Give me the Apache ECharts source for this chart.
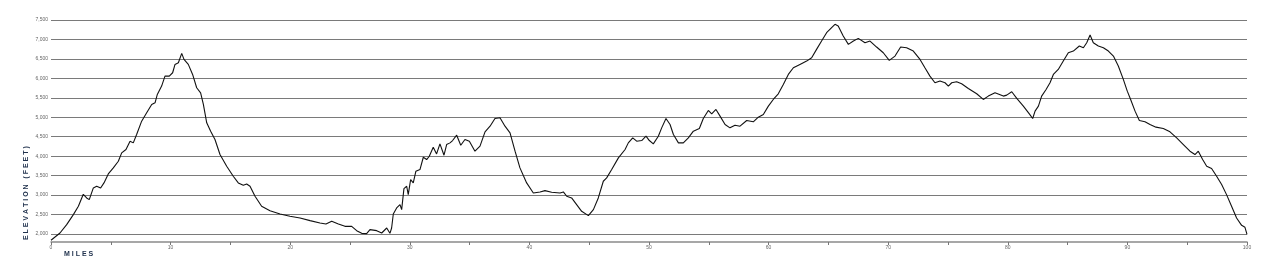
<!DOCTYPE html>
<html>
<head>
<meta charset="utf-8">
<script src="https://cdn.jsdelivr.net/npm/echarts@6/dist/echarts.min.js"></script>
<style>
html,body{margin:0;padding:0;background:#fff;}
#chart{width:1271px;height:264px;}
</style>
</head>
<body>
<div id="chart"></div>
<script>
// Elevation profile: miles along route
const miles = [
  0, 0.75, 1.31, 1.87, 2.29, 2.7, 2.98, 3.2, 3.54, 3.82, 4.15, 4.43, 4.79, 5.21, 5.63, 5.91,
  6.27, 6.61, 6.88, 7.16, 7.58, 8.0, 8.42, 8.7, 8.89, 9.25, 9.53, 9.89, 10.17, 10.37, 10.65,
  10.93, 11.12, 11.48, 11.84, 12.18, 12.51, 12.74, 13.02, 13.35, 13.71, 14.13, 14.69, 15.24,
  15.66, 16.08, 16.36, 16.64, 17.06, 17.61, 18.31, 19.15, 19.98, 20.82, 21.66, 22.49, 22.99,
  23.47, 24.03, 24.58, 25.14, 25.56, 25.98, 26.39, 26.67, 27.23, 27.65, 28.07, 28.34, 28.48,
  28.62, 28.9, 29.18, 29.32, 29.51, 29.74, 29.87, 30.07, 30.29, 30.51, 30.85, 31.13, 31.41,
  31.63, 31.96, 32.24, 32.52, 32.86, 33.08, 33.36, 33.58, 33.92, 34.26, 34.61, 34.98, 35.45,
  35.87, 36.29, 36.71, 37.12, 37.54, 37.96, 38.38, 38.8, 39.21, 39.77, 40.33, 40.89, 41.3,
  41.86, 42.56, 42.84, 43.12, 43.53, 43.95, 44.37, 44.93, 45.35, 45.76, 46.18, 46.46, 46.88,
  47.44, 48.0, 48.27, 48.64, 48.97, 49.39, 49.75, 50.03, 50.36, 50.78, 51.06, 51.42, 51.76,
  52.04, 52.46, 52.87, 53.29, 53.71, 54.21, 54.54, 54.96, 55.24, 55.6, 55.94, 56.36, 56.77,
  57.19, 57.61, 58.17, 58.72, 59.14, 59.56, 59.98, 60.39, 60.81, 61.23, 61.65, 62.07, 62.62,
  63.18, 63.6, 64.01, 64.43, 64.85, 65.27, 65.55, 65.82, 66.24, 66.67, 67.09, 67.5, 68.06,
  68.48, 69.03, 69.59, 70.09, 70.57, 71.04, 71.54, 72.1, 72.66, 73.07, 73.49, 73.91, 74.33,
  74.75, 75.03, 75.31, 75.72, 76.14, 76.7, 77.4, 77.95, 78.37, 78.93, 79.63, 79.91, 80.33,
  80.75, 81.3, 81.8, 82.08, 82.28, 82.56, 82.83, 83.2, 83.53, 83.81, 84.22, 84.64, 85.06,
  85.48, 85.98, 86.32, 86.6, 86.88, 87.15, 87.57, 87.99, 88.41, 88.83, 89.24, 89.66, 89.99,
  90.27, 90.64, 91.0, 91.47, 91.89, 92.39, 93.0, 93.56, 94.12, 94.68, 95.23, 95.65, 95.93,
  96.29, 96.63, 97.04, 97.46, 97.88, 98.29, 98.71, 99.13, 99.55, 99.83, 100
];
// Elevation in feet
const elevation = [
  1840, 2026, 2240, 2498, 2712, 3020, 2927, 2884, 3184, 3227, 3184, 3313, 3544, 3699, 3870, 4085,
  4171, 4385, 4342, 4557, 4900, 5115, 5329, 5372, 5586, 5801, 6058, 6058, 6144, 6359, 6402,
  6642, 6487, 6359, 6101, 5758, 5629, 5329, 4857, 4643, 4428, 4042, 3742, 3484,
  3313, 3253, 3287, 3227, 2970, 2712, 2600, 2515, 2455, 2412, 2343, 2283, 2257,
  2326, 2257, 2197, 2197, 2086, 2017, 2009, 2112, 2086, 2026, 2154, 2017, 2154,
  2515, 2669, 2755, 2626, 3167, 3227, 3012, 3399, 3313, 3613, 3656, 3973, 3913,
  3999, 4231, 4059, 4317, 4025, 4299, 4342, 4402, 4540, 4282, 4428, 4385, 4128,
  4257, 4626, 4771, 4969, 4986, 4771, 4600, 4128, 3699, 3313, 3055, 3081, 3115,
  3072, 3055, 3081, 2970, 2927, 2755, 2583, 2472, 2626, 2927, 3356, 3442, 3656,
  3956, 4171, 4342, 4471, 4385, 4402, 4514, 4402, 4317, 4514, 4728, 4969, 4814,
  4557, 4342, 4342, 4471, 4643, 4711, 4969, 5175, 5089, 5201, 5029, 4814, 4728,
  4797, 4771, 4917, 4883, 5003, 5072, 5286, 5458, 5604, 5844, 6101, 6273, 6359,
  6444, 6530, 6745, 6959, 7174, 7302, 7388, 7345, 7088, 6873, 6959, 7028, 6916,
  6959, 6805, 6659, 6462, 6573, 6805, 6788, 6702, 6487, 6273, 6058, 5887, 5930,
  5887, 5801, 5887, 5913, 5861, 5741, 5604, 5458, 5544, 5629, 5544, 5569, 5655,
  5484, 5286, 5089, 4969, 5158, 5286, 5544, 5715, 5887, 6101, 6230, 6444, 6659,
  6702, 6831, 6788, 6916, 7114, 6916, 6831, 6788, 6702, 6573, 6316, 5973, 5672,
  5458, 5158, 4917, 4883, 4814, 4746, 4711, 4626, 4471, 4299, 4128, 4042, 4128,
  3913, 3742, 3682, 3484, 3270, 3012, 2712, 2412, 2223, 2172, 1990
];
const xTitle = 'M I L E S';
const yTitle = 'E L E V A T I O N   ( F E E T )';

const chart = echarts.init(document.getElementById('chart'), null, {renderer: 'canvas'});
const data = miles.map((m, i) => [m, elevation[i]]);
chart.setOption({
  animation: false,
  backgroundColor: '#fff',
  grid: {left: 51, right: 24, top: 20, bottom: 30, containLabel: false},
  xAxis: {
    type: 'value', min: 0, max: 100, interval: 5, offset: 8,
    axisLine: {show: true, lineStyle: {color: '#8a8a8a', width: 1.5}},
    axisTick: {show: true, length: 3, lineStyle: {color: '#777'}},
    axisLabel: {
      fontSize: 5, color: '#666', margin: 3, fontFamily: 'Liberation Sans',
      formatter: v => (v % 10 === 0 ? String(v) : '')
    },
    splitLine: {show: false}
  },
  yAxis: {
    type: 'value', min: 2000, max: 7500, interval: 500,
    axisLine: {show: false}, axisTick: {show: false},
    axisLabel: {
      fontSize: 5, color: '#666', margin: 3, fontFamily: 'Liberation Sans',
      formatter: v => v.toLocaleString('en-US')
    },
    splitLine: {show: true, lineStyle: {color: '#7a7a7a', width: 1}}
  },
  series: [{
    type: 'line', data: data, showSymbol: false, clip: false,
    lineStyle: {color: '#111', width: 1.1}
  }],
  graphic: [
    {type: 'text', x: 64, y: 251, style: {text: xTitle, font: 'bold 7px "Liberation Sans"', fill: '#23344f'}},
    {type: 'text', x: 23, y: 240, rotation: Math.PI / 2,
     style: {text: yTitle, font: 'bold 7px "Liberation Sans"', fill: '#23344f'}}
  ]
});
</script>
</body>
</html>
